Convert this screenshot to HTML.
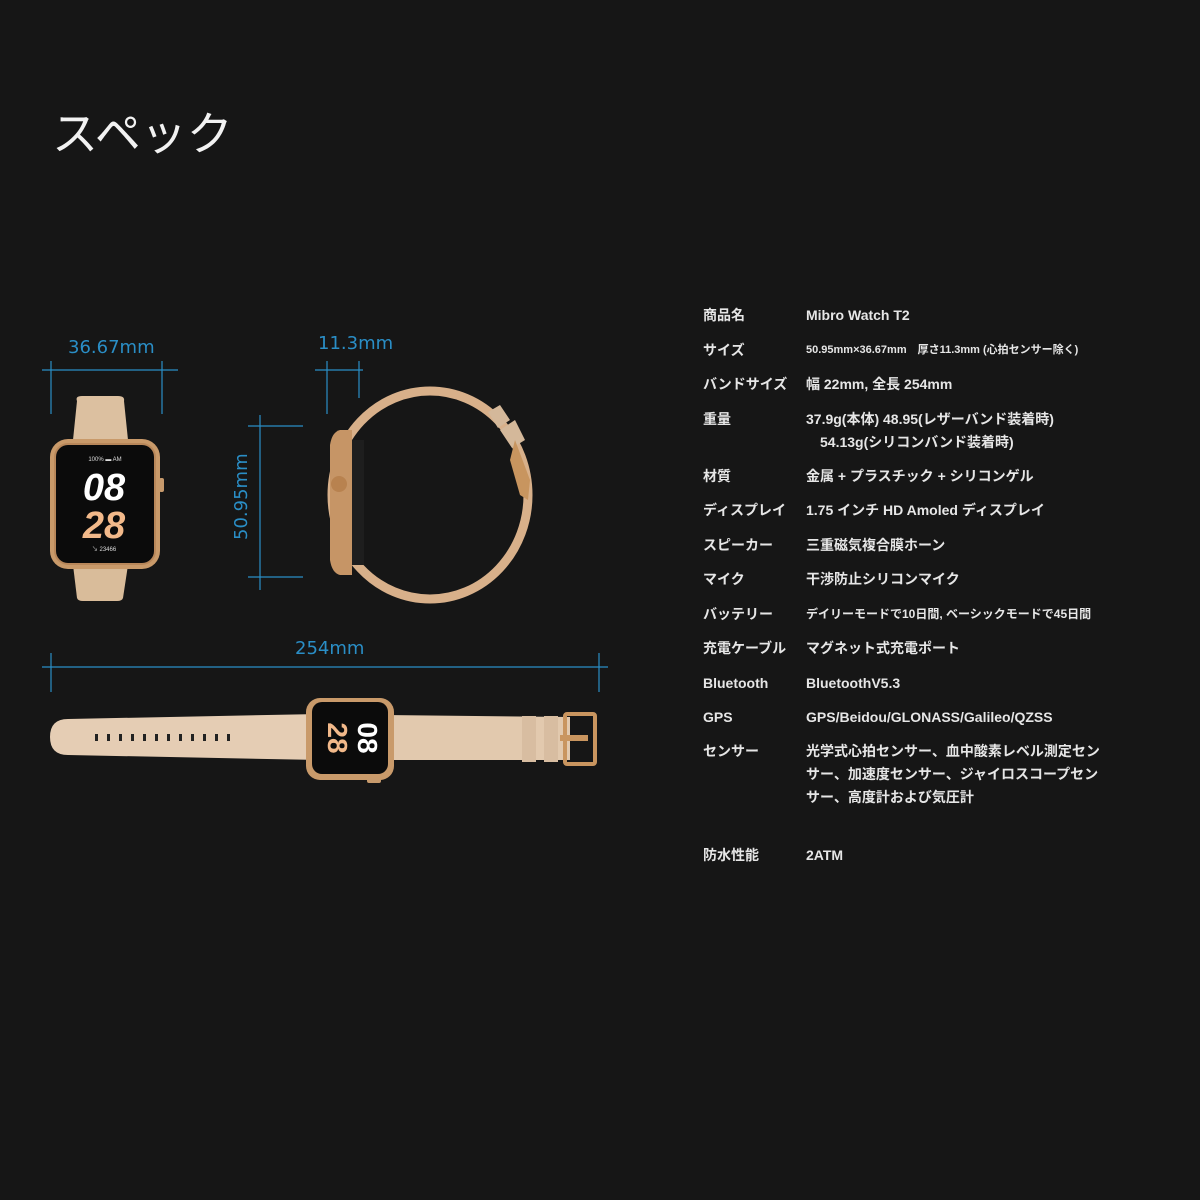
<!DOCTYPE html>
<html><head><meta charset="utf-8"><style>
body{margin:0;background:#161616;width:1200px;height:1200px;overflow:hidden;font-family:"Liberation Sans","Noto Sans CJK JP",sans-serif}
</style></head><body>
<svg width="1200" height="1200" xmlns="http://www.w3.org/2000/svg" style="position:absolute;left:0;top:0">
<rect width="1200" height="1200" fill="#161616"/>
<text x="52" y="150" fill="#f2f2f2" font-size="46" font-family="Noto Sans CJK JP,sans-serif">スペック</text>
<g stroke="#2a8ec6" stroke-width="1.2" fill="none">
<line x1="42" y1="370" x2="178" y2="370"/><line x1="51" y1="361" x2="51" y2="414"/><line x1="162" y1="361" x2="162" y2="414"/>
<line x1="315" y1="370" x2="363" y2="370"/><line x1="327" y1="361" x2="327" y2="414"/><line x1="359" y1="361" x2="359" y2="398"/>
<line x1="248" y1="426" x2="303" y2="426"/><line x1="248" y1="577" x2="303" y2="577"/><line x1="260" y1="415" x2="260" y2="590"/>
<line x1="42" y1="667" x2="608" y2="667"/><line x1="51" y1="653" x2="51" y2="692"/><line x1="599" y1="653" x2="599" y2="692"/>
</g>
<g fill="#2a8ec6" font-size="18" font-family="DejaVu Sans,sans-serif">
<text x="68" y="353">36.67mm</text><text x="318" y="349">11.3mm</text><text x="295" y="654">254mm</text>
<text transform="translate(247,540) rotate(-90)">50.95mm</text>
</g>
<!-- front watch -->
<path d="M77 401 Q75 396 82 396 L118 396 Q125 396 124 401 L128 440 L73 440 Z" fill="#dcc0a0"/>
<path d="M73 565 L128 565 L123 598 Q122 601 117 601 L83 601 Q78 601 77 598 Z" fill="#d9bc9a"/>
<rect x="50" y="439" width="110" height="130" rx="18" fill="#c99a6a"/>
<rect x="54" y="443" width="102" height="122" rx="14" fill="#b8875a"/>
<rect x="56" y="445" width="98" height="118" rx="12" fill="#0b0b0b"/>
<rect x="159" y="478" width="5" height="14" rx="2" fill="#c79a6c"/>
<text x="105" y="461" fill="#ddd" font-size="6" text-anchor="middle">100% ▬ AM</text>
<text x="104" y="500" fill="#fff" font-size="38" font-weight="bold" font-style="italic" text-anchor="middle">08</text>
<text x="104" y="538" fill="#f2b98a" font-size="38" font-weight="bold" font-style="italic" text-anchor="middle">28</text>
<text x="104" y="551" fill="#ddd" font-size="6" text-anchor="middle">↘ 23466</text>
<!-- side watch -->
<ellipse cx="430" cy="495" rx="98" ry="104" fill="none" stroke="#d8b08a" stroke-width="9"/>
<path d="M488 412 L500 405 L510 420 L498 428 Z M500 430 L515 420 L525 440 L512 448 Z" fill="#d4b89a"/>
<path d="M515 440 L530 480 L528 500 L520 495 L510 460 Z" fill="#c8955f"/>
<path d="M340 430 Q332 432 330 445 L330 560 Q332 573 340 575 L352 575 L352 430 Z" fill="#c69566"/>
<rect x="352" y="440" width="12" height="125" fill="#1e1e1e"/>
<circle cx="339" cy="484" r="8" fill="#b8824f"/>
<!-- band -->
<path d="M68 719 L320 714 L320 760 L68 755 Q50 755 50 737 Q50 719 68 719 Z" fill="#e5cdb4"/>
<path d="M385 715 L570 717 L570 760 L385 760 Z" fill="#e2c9ae"/>
<rect x="522" y="716" width="14" height="46" fill="#d8bda1"/>
<rect x="544" y="716" width="14" height="46" fill="#d8bda1"/>
<rect x="565" y="714" width="30" height="50" rx="2" fill="none" stroke="#c9955f" stroke-width="4"/>
<rect x="560" y="735" width="28" height="6" fill="#c9955f"/>
<g fill="#222"><rect x="95" y="734" width="3" height="7"/><rect x="107" y="734" width="3" height="7"/><rect x="119" y="734" width="3" height="7"/><rect x="131" y="734" width="3" height="7"/><rect x="143" y="734" width="3" height="7"/><rect x="155" y="734" width="3" height="7"/><rect x="167" y="734" width="3" height="7"/><rect x="179" y="734" width="3" height="7"/><rect x="191" y="734" width="3" height="7"/><rect x="203" y="734" width="3" height="7"/><rect x="215" y="734" width="3" height="7"/><rect x="227" y="734" width="3" height="7"/></g>
<rect x="306" y="698" width="88" height="82" rx="14" fill="#c99a6a"/>
<rect x="312" y="702" width="76" height="72" rx="10" fill="#0b0b0b"/>
<rect x="367" y="778" width="14" height="5" rx="2" fill="#c79a6c"/>
<text transform="translate(358,738) rotate(90)" fill="#fff" font-size="28" font-weight="bold" text-anchor="middle">08</text>
<text transform="translate(328,738) rotate(90)" fill="#f2b98a" font-size="28" font-weight="bold" text-anchor="middle">28</text>
<!-- specs -->
<g fill="#e6e6e6" font-size="14" font-weight="bold" font-family="Liberation Sans,Noto Sans CJK JP,sans-serif">
<text x="703" y="320">商品名</text><text x="806" y="320">Mibro Watch T2</text>
<text x="703" y="355">サイズ</text><text x="806" y="353" font-size="11">50.95mm×36.67mm　厚さ11.3mm (心拍センサー除く)</text>
<text x="703" y="389">バンドサイズ</text><text x="806" y="389">幅 22mm, 全長 254mm</text>
<text x="703" y="424">重量</text><text x="806" y="424">37.9g(本体)  48.95(レザーバンド装着時)</text>
<text x="820" y="447">54.13g(シリコンバンド装着時)</text>
<text x="703" y="481">材質</text><text x="806" y="481">金属 + プラスチック + シリコンゲル</text>
<text x="703" y="515">ディスプレイ</text><text x="806" y="515">1.75 インチ HD Amoled ディスプレイ</text>
<text x="703" y="550">スピーカー</text><text x="806" y="550">三重磁気複合膜ホーン</text>
<text x="703" y="584">マイク</text><text x="806" y="584">干渉防止シリコンマイク</text>
<text x="703" y="619">バッテリー</text><text x="806" y="618" font-size="12">デイリーモードで10日間, ベーシックモードで45日間</text>
<text x="703" y="653">充電ケーブル</text><text x="806" y="653">マグネット式充電ポート</text>
<text x="703" y="688">Bluetooth</text><text x="806" y="688">BluetoothV5.3</text>
<text x="703" y="722">GPS</text><text x="806" y="722">GPS/Beidou/GLONASS/Galileo/QZSS</text>
<text x="703" y="756">センサー</text><text x="806" y="756">光学式心拍センサー、血中酸素レベル測定セン</text>
<text x="806" y="779">サー、加速度センサー、ジャイロスコープセン</text>
<text x="806" y="802">サー、高度計および気圧計</text>
<text x="703" y="860">防水性能</text><text x="806" y="860">2ATM</text>
</g>
</svg>
</body></html>
